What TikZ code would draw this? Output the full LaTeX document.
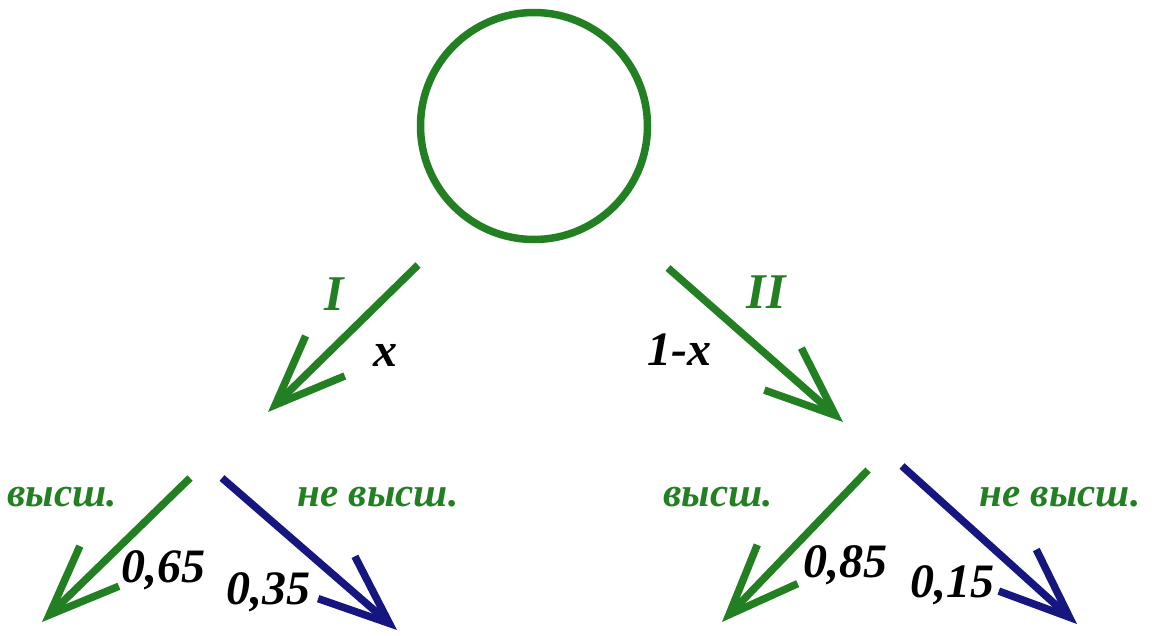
\documentclass[tikz,border=0pt]{standalone}
\usepackage{fontspec}
\setmainfont{Liberation Serif}
\usepackage{tikz}
\usetikzlibrary{positioning, arrows.meta}
\usepackage{xcolor}

\definecolor{treegreen}{RGB}{34,128,34}
\definecolor{treeblue}{RGB}{22,22,128}

\tikzset{
  branch/.style={line width=7.5pt, -{Straight Barb[length=70pt, width=56pt, line width=7.5pt]}},
  prob/.style={font=\fontsize{48}{52}\selectfont\bfseries\itshape, text=black, inner sep=0pt},
  kind/.style={font=\fontsize{41}{45}\selectfont\bfseries\itshape, text=treegreen, inner sep=0pt},
  urnname/.style={kind, font=\fontsize{50}{54}\selectfont\bfseries\itshape}
}

\begin{document}
\begin{tikzpicture}[x=1pt, y=-1pt]
            \useasboundingbox (0,0) rectangle (1161,635);

            % top circle
            \node[draw=treegreen, line width=7.5pt, circle, minimum size=227pt] (urn) at (534,126) {};

            % first level
            \coordinate (I0) at (418,265);
            \coordinate (I1) at (268,412);
            \coordinate (II0) at (668,268);
            \coordinate (II1) at (843,422);
            \draw[branch, treegreen] (I0) -- (I1);
            \draw[branch, treegreen] (II0) -- (II1);
            \node[urnname] (labI) at (334,294) {I};
            \node[prob] (px) at (385,355) {x};
            \node[urnname] (labII) at (766,292) {II};
            \node[prob] (p1x) at (679,350) {1-x};

            % second level, left
            \coordinate (A0) at (190,478);
            \coordinate (A1) at (42,622);
            \coordinate (B0) at (222,478);
            \coordinate (B1) at (397,630);
            \draw[branch, treegreen] (A0) -- (A1);
            \draw[branch, treeblue] (B0) -- (B1);
            \node[kind] (hiA) at (62,497) {высш.};
            \node[kind] (loA) at (378,497) {не высш.};
            \node[prob] (pA) at (163,570) {0,65};
            \node[prob] (pB) at (268,592) {0,35};

            % second level, right
            \coordinate (C0) at (868,470);
            \coordinate (C1) at (722,622);
            \coordinate (D0) at (902,466);
            \coordinate (D1) at (1077,624);
            \draw[branch, treegreen] (C0) -- (C1);
            \draw[branch, treeblue] (D0) -- (D1);
            \node[kind] (hiC) at (718,497) {высш.};
            \node[kind] (loC) at (1060,497) {не высш.};
            \node[prob] (pC) at (845,565) {0,85};
            \node[prob] (pD) at (952,585) {0,15};
        \end{tikzpicture}
\end{document}
